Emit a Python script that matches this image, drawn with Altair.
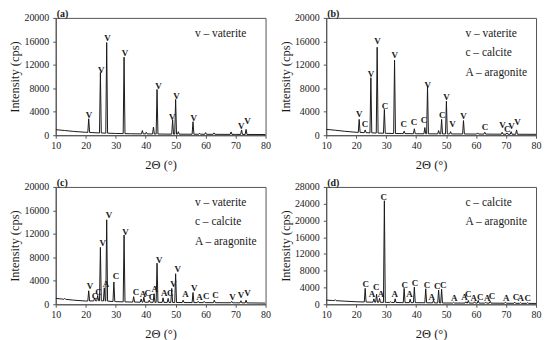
import altair as alt
import numpy as np
import pandas as pd

SERIF = "Liberation Serif"

# ---------------- Panel (a): vaterite ----------------
a_peak_x = [21.0, 24.9, 27.0, 32.8, 38.9, 40.2, 42.6, 43.8, 49.0, 50.0, 50.9, 55.8, 58.0, 60.0, 62.8, 68.5, 72.0, 73.5]
a_peak_y = [2800, 10700, 15800, 13300, 800, 500, 1400, 7800, 2600, 6100, 600, 2300, 350, 450, 400, 550, 900, 1000]
a_bg_x = [10, 13, 16, 20, 25, 30, 35, 40, 50, 60, 70, 80]
a_bg_y = [950, 800, 650, 500, 380, 300, 250, 220, 180, 160, 140, 120]
a_lab_x = [21.1, 25.2, 27.3, 33.1, 44.3, 48.9, 50.3, 56.0, 71.9, 74.0]
a_lab_y = [3470, 11100, 16500, 14000, 8400, 3100, 6700, 3000, 1570, 2400]
a_lab_t = ["V", "V", "V", "V", "V", "V", "V", "V", "V", "V"]
a_legend = ["v \u2013 vaterite"]

# ---------------- Panel (b): vaterite + calcite ----------------
b_peak_x = [21.0, 23.0, 24.9, 27.0, 29.4, 32.8, 36.0, 39.4, 42.9, 43.8, 47.5, 48.5, 50.1, 51.5,
            55.8, 60.5, 62.9, 68.7, 70.3, 71.7, 73.5]
b_peak_y = [2700, 900, 9800, 15000, 4400, 12800, 700, 1100, 1300, 8300, 800, 2700, 5800, 600,
            2500, 400, 500, 500, 400, 600, 900]
b_bg_x = [10, 13, 16, 20, 25, 30, 35, 40, 50, 60, 70, 80]
b_bg_y = [1000, 850, 680, 500, 400, 320, 280, 250, 220, 200, 170, 150]
b_lab_x = [21.0, 22.9, 24.9, 27.1, 29.6, 32.9, 35.9, 39.3, 42.6, 43.9, 48.7, 50.1, 52.1, 55.8,
           63.0, 68.8, 70.4, 71.8, 73.8]
b_lab_y = [3540, 1970, 10450, 16000, 5060, 13650, 1850, 2300, 2530, 8600, 3430, 6460, 1850, 3260,
           1460, 1740, 1120, 1570, 2250]
b_lab_t = ["V", "C", "V", "V", "C", "V", "C", "C", "C", "V", "C", "V", "V", "V",
           "C", "V", "C", "V", "V"]
b_legend = ["v \u2013 vaterite", "c \u2013 calcite", "A \u2013 aragonite"]

# ---------------- Panel (c): vaterite + calcite + aragonite ----------------
c_peak_x = [13.0, 21.0, 23.0, 24.0, 24.9, 26.2, 27.0, 29.4, 32.8, 36.0, 38.5, 39.4, 41.2, 42.8,
            43.8, 45.8, 47.5, 48.7, 50.0, 52.5, 55.8, 57.5, 59.5, 62.9, 68.7, 71.8, 73.5]
c_peak_y = [1000, 2300, 1100, 1500, 9700, 2800, 14400, 3800, 11800, 1300, 900, 1200, 700, 1800,
            7000, 1100, 1000, 2700, 5200, 700, 2000, 500, 500, 700, 500, 600, 700]
c_bg_x = [10, 12, 16, 20, 25, 30, 35, 40, 50, 60, 70, 80]
c_bg_y = [1000, 900, 700, 550, 600, 450, 380, 350, 300, 280, 250, 200]
c_lab_x = [21.4, 23.1, 24.3, 25.7, 26.8, 27.8, 30.1, 33.3, 36.8, 39.1, 40.7, 42.1, 43.0, 44.5,
           46.2, 48.2, 49.3, 50.7, 53.3, 56.2, 58.0, 60.2, 63.3, 69.0, 71.8, 74.0]
c_lab_y = [3090, 1400, 2080, 10400, 3370, 15170, 4890, 12360, 2080, 1690, 1970, 1290, 2580, 7580,
           1970, 1850, 3370, 5950, 1690, 2800, 1290, 1400, 1520, 1290, 1570, 1850]
c_lab_t = ["V", "C", "C", "V", "A", "V", "C", "V", "C", "A", "C", "C", "A", "V",
           "A", "C", "V", "V", "A", "V", "A", "C", "C", "V", "V", "V"]
c_legend = ["v \u2013 vaterite", "c \u2013 calcite", "A \u2013 aragonite"]

# ---------------- Panel (d): calcite + aragonite ----------------
d_peak_x = [13.0, 23.0, 25.9, 26.8, 27.8, 29.4, 31.5, 33.0, 36.0, 38.0, 39.4, 43.2, 45.8, 47.5,
            48.5, 52.5, 56.6, 57.4, 59.5, 60.7, 63.2, 64.7, 69.8, 72.9, 74.8, 77.2]
d_peak_y = [1100, 3800, 1300, 2400, 1400, 24700, 600, 1300, 3800, 1200, 4100, 3700, 1000, 3400,
            3600, 500, 600, 900, 600, 900, 500, 700, 500, 500, 400, 400]
d_bg_x = [10, 12, 16, 20, 25, 30, 35, 40, 50, 60, 70, 80]
d_bg_y = [1000, 900, 750, 600, 500, 450, 400, 380, 300, 280, 250, 200]
d_lab_x = [23.2, 25.3, 26.7, 28.3, 29.2, 32.9, 36.2, 37.8, 39.6, 43.6, 45.2, 47.0, 49.0, 52.7,
           56.1, 57.4, 59.2, 61.4, 63.7, 65.3, 70.1, 73.3, 74.9, 77.2]
d_lab_y = [4800, 2400, 4000, 2400, 25600, 2400, 4600, 2400, 5000, 4600, 1800, 4400, 4600, 1400,
           1650, 2400, 1400, 1800, 1600, 2000, 1600, 1800, 1400, 1400]
d_lab_t = ["C", "A", "C", "A", "C", "A", "C", "A", "C", "C", "A", "C", "C", "A",
           "A", "C", "A", "C", "A", "C", "A", "C", "A", "C"]
d_legend = ["c \u2013 calcite", "A \u2013 aragonite"]

x_ticks = [10, 20, 30, 40, 50, 60, 70, 80]
y_ticks_abc = [0, 4000, 8000, 12000, 16000, 20000]
y_ticks_d = [0, 4000, 8000, 12000, 16000, 20000, 24000, 28000]

W, H = 211, 118
AX = "#555555"
INK = "#1a1a1a"


def pattern(px, py, bx, by, w=0.3):
    pts = [(x, y) for x, y in zip(bx, by) if all(abs(x - p) > w for p in px)]
    for p, h in zip(px, py):
        foot = float(np.interp(p, bx, by))
        pts += [(p - w, foot), (p, h), (p + w, foot)]
    pts.sort()
    return pd.DataFrame(pts, columns=["x", "y"])


def panel(tag, px, py, bx, by, lx, ly, lt, legend, yticks):
    ymax = yticks[-1]
    df = pattern(px, py, bx, by)
    xenc = alt.X("x:Q", scale=alt.Scale(domain=[10, 80], nice=False),
                 axis=alt.Axis(values=x_ticks, tickCount=20, title="2\u0398 (\u00b0)", format="d",
                               labelOverlap=False, labelFlush=False))
    yenc = alt.Y("y:Q", scale=alt.Scale(domain=[0, ymax], nice=False),
                 axis=alt.Axis(values=yticks, tickCount=20, title="Intensity (cps)", format="d",
                               labelOverlap=False, labelFlush=False))
    line = alt.Chart(df).mark_line(color=INK, strokeWidth=1, clip=True).encode(x=xenc, y=yenc)
    lab = alt.Chart(pd.DataFrame({"x": lx, "y": ly, "t": lt})).mark_text(
        font=SERIF, fontSize=9, fontWeight="bold", color=INK, baseline="middle"
    ).encode(x="x:Q", y="y:Q", text="t:N")
    layers = [line, lab]
    for i, s in enumerate(legend):
        layers.append(
            alt.Chart(pd.DataFrame({"t": [s]})).mark_text(
                font=SERIF, fontSize=11.5, color=INK, align="left", baseline="middle"
            ).encode(x=alt.value(140), y=alt.value(16 + 19.5 * i), text="t:N")
        )
    layers.append(
        alt.Chart(pd.DataFrame({"t": [tag]})).mark_text(
            font=SERIF, fontSize=10, fontWeight="bold", color=INK, align="left", baseline="middle"
        ).encode(x=alt.value(1), y=alt.value(-3.5), text="t:N")
    )
    return alt.layer(*layers).properties(width=W, height=H)


pa = panel("(a)", a_peak_x, a_peak_y, a_bg_x, a_bg_y, a_lab_x, a_lab_y, a_lab_t, a_legend, y_ticks_abc)
pb = panel("(b)", b_peak_x, b_peak_y, b_bg_x, b_bg_y, b_lab_x, b_lab_y, b_lab_t, b_legend, y_ticks_abc)
pc = panel("(c)", c_peak_x, c_peak_y, c_bg_x, c_bg_y, c_lab_x, c_lab_y, c_lab_t, c_legend, y_ticks_abc)
pd_ = panel("(d)", d_peak_x, d_peak_y, d_bg_x, d_bg_y, d_lab_x, d_lab_y, d_lab_t, d_legend, y_ticks_d)

chart = alt.concat(pa, pb, pc, pd_, columns=2, spacing={"row": 52, "column": 61}, bounds="flush").properties(
    padding={"left": 0, "top": 0, "right": 0, "bottom": 0}
).configure(font=SERIF).configure_view(stroke=AX, strokeWidth=1).configure_axis(
    grid=False, domainColor=AX, tickColor=AX, tickSize=3,
    labelFont=SERIF, labelFontSize=10, labelColor=INK,
    titleFont=SERIF, titleFontSize=12.5, titleFontWeight="normal", titleColor=INK,
).configure_axisX(labelPadding=2, titlePadding=8).configure_axisY(labelPadding=4, titlePadding=2)

chart.save("out.html", embed_options={"renderer": "svg", "actions": False})
